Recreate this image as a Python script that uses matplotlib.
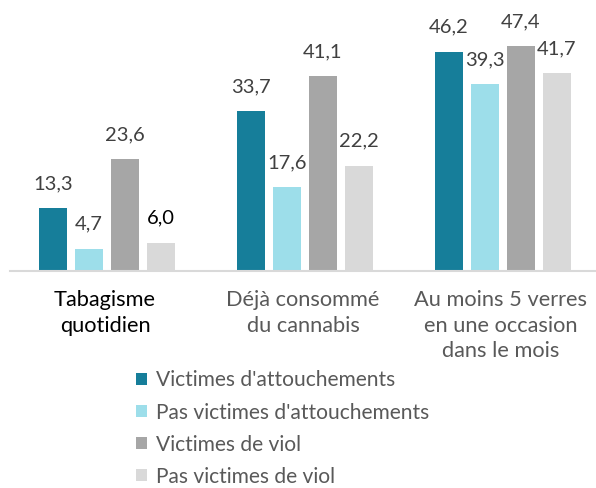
import matplotlib
matplotlib.use("Agg")
import matplotlib.pyplot as plt
from matplotlib.patches import Patch
import numpy as np

categories = ["Tabagisme\nquotidien", "Déjà consommé\ndu cannabis", "Au moins 5 verres\nen une occasion\ndans le mois"]
series_names = ["Victimes d'attouchements", "Pas victimes d'attouchements", "Victimes de viol", "Pas victimes de viol"]
victimes_attouchements = [13.3, 33.7, 46.2]
pas_victimes_attouchements = [4.7, 17.6, 39.3]
victimes_viol = [23.6, 41.1, 47.4]
pas_victimes_viol = [6.0, 22.2, 41.7]
series = [victimes_attouchements, pas_victimes_attouchements, victimes_viol, pas_victimes_viol]
colors = ["#167E9A", "#9DDEEA", "#A6A6A6", "#D9D9D9"]

plt.rcParams['font.family'] = ['Lato', 'DejaVu Sans']

W, H = 596, 488
fig = plt.figure(figsize=(W/100, H/100), dpi=100)
ax = fig.add_axes([10/W, 217/H, 586/W, 237.5/H])

x = np.arange(len(categories))
bw = 28/198
step = 36/198
for i, (vals, col) in enumerate(zip(series, colors)):
    pos = x + (i - 1.5) * step
    ax.bar(pos, vals, width=bw, color=col, edgecolor='none', label=series_names[i])
    for j, (p, v) in enumerate(zip(pos, vals)):
        tc = '#000000' if (i == 3 and j == 0) else '#404040'
        ax.annotate(f"{v:.1f}".replace('.', ','), (p, v), xytext=(0, 17.5), textcoords='offset points',
                    ha='center', va='center', fontsize=14.5, color=tc)

ax.set_xlim(-0.49, 2.47)
ax.set_ylim(0, 50)
for s in ['top', 'right', 'left']:
    ax.spines[s].set_visible(False)
ax.spines['bottom'].set_color('#D9D9D9')
ax.spines['bottom'].set_linewidth(1.5)
ax.set_yticks([])
ax.set_xticks(x - 0.01)
ax.set_xticklabels(categories, fontsize=15.7, linespacing=1.33)
for lbl, c in zip(ax.get_xticklabels(), ['#000000', '#595959', '#595959']):
    lbl.set_color(c)
    lbl.set_verticalalignment('top')
ax.tick_params(axis='x', length=0, pad=14)

handles = [Patch(facecolor=c, edgecolor='none') for c in colors]
leg = fig.legend(handles, series_names, loc='upper left', bbox_to_anchor=(128/W, 1 - 362/H),
                 frameon=False, fontsize=15.1, handlelength=0.5, handleheight=0.5,
                 handletextpad=0.45, labelspacing=0.58, borderaxespad=0)
for t in leg.get_texts():
    t.set_color('#595959')

fig.savefig("out.png", dpi=100)
